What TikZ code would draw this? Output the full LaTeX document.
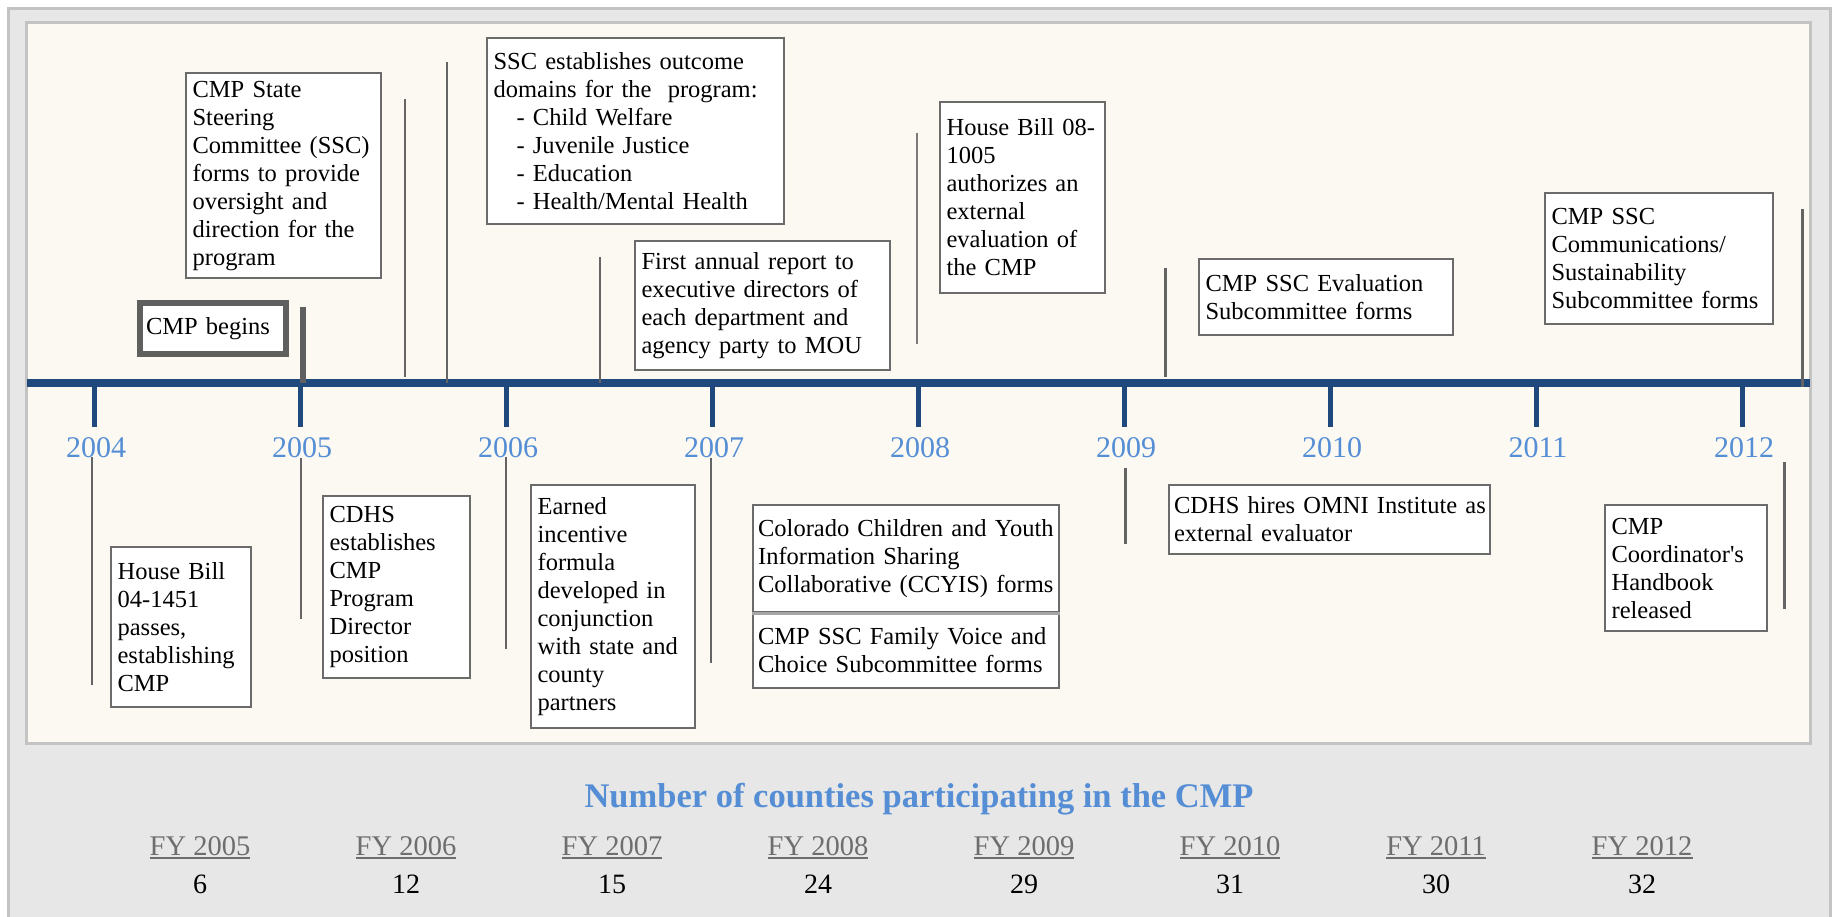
\documentclass[tikz,border=0pt]{standalone}
\usepackage{fontspec}
\setmainfont{Liberation Serif}
\definecolor{outerfill}{HTML}{E7E7E7}
\definecolor{outerline}{HTML}{C3C3C3}
\definecolor{panelfill}{HTML}{FCF9F2}
\definecolor{axisblue}{HTML}{1F497D}
\definecolor{yearblue}{HTML}{558ED5}
\definecolor{boxgray}{HTML}{6B6B6B}
\definecolor{leadgray}{HTML}{646464}
\definecolor{darkgray5}{HTML}{5F5F5F}
\definecolor{divgray}{HTML}{A6A6A6}
\definecolor{fygray}{HTML}{6E6E6E}
\newcommand{\bodyfont}{\fontsize{24.5}{28}\selectfont\hyphenpenalty=10000\exhyphenpenalty=10000}
\tikzset{
  evbox/.style={draw=boxgray, line width=2.2pt, fill=white, anchor=north west,
    inner xsep=6.5pt, inner ysep=2pt, align=left, font=\bodyfont, text=black},
  thickbox/.style={draw=darkgray5, line width=6pt, fill=white, anchor=north west,
    inner xsep=6pt, inner ysep=0pt, align=left, font=\bodyfont, text=black},
  leader/.style={draw=leadgray, line width=2.5pt},
  thickleader/.style={draw=darkgray5, line width=6pt},
  tickline/.style={draw=axisblue, line width=5pt},
  yearlbl/.style={anchor=base, inner sep=0pt, text=yearblue, font=\fontsize{30}{32}\selectfont},
  titlelbl/.style={anchor=base, inner sep=0pt, text=yearblue, font=\fontsize{34.5}{36}\selectfont\bfseries},
  fylbl/.style={anchor=base, inner sep=0pt, text=fygray, font=\fontsize{28.5}{30}\selectfont},
  numlbl/.style={anchor=base, inner sep=0pt, text=black, font=\fontsize{28}{30}\selectfont},
}
\begin{document}
\begin{tikzpicture}[x=1pt,y=-1pt]
\useasboundingbox (0,0) rectangle (1836,917);
\fill[white] (0,0) rectangle (1836,917);
% frames
\draw[draw=outerline, line width=3pt, fill=outerfill] (8.5,8.5) rectangle (1830.5,940);
\draw[draw=outerline, line width=3pt, fill=panelfill] (26.5,22.5) rectangle (1810.5,743);

% axis
\coordinate (axisL) at (27,383);
\coordinate (axisR) at (1810,383);
\draw[axisblue, line width=7.5pt] (axisL) -- (axisR);
\foreach \k/\yr in {0/2004,1/2005,2/2006,3/2007,4/2008,5/2009,6/2010,7/2011,8/2012}{
  \coordinate (t\yr) at (94+206*\k,383);
  \draw[tickline] (t\yr) -- ++(0,44);
  \node[yearlbl] (y\yr) at (96+206*\k,457) {\yr};
}

% leader lines above the axis
\draw[thickleader] (302.5,307) -- (302.5,383);
\draw[leader] (405,99) -- (405,377);
\draw[leader] (447,62) -- (447,383);
\draw[leader] (600,257) -- (600,383);
\draw[leader, draw=leadgray!85] (917,133) -- (917,344);
\draw[leader, line width=3pt] (1165,268) -- (1165,377);
\draw[leader, line width=3pt] (1802,209) -- (1802,387);
% leader lines below the axis
\draw[leader] (92,457) -- (92,685);
\draw[leader] (301,458) -- (301,619);
\draw[leader] (506,457) -- (506,649);
\draw[leader] (711,458) -- (711,663);
\draw[leader, line width=3pt] (1125,468) -- (1125,544);
\draw[leader, line width=3pt] (1784,462) -- (1784,609);

% boxes above
\node[thickbox, text width=134pt, minimum height=51pt] (begins) at (137,300) {CMP begins};
\node[evbox, text width=182pt, minimum height=205pt] (ssc) at (185,72)
  {CMP State\\Steering\\Committee (SSC)\\forms to provide\\oversight and\\direction for the\\program};
\node[evbox, text width=284pt, minimum height=186pt] (domains) at (486,37)
  {SSC establishes outcome\\domains for the\ \ program:\\\hspace*{23pt}- Child Welfare\\\hspace*{23pt}- Juvenile Justice\\\hspace*{23pt}- Education\\\hspace*{23pt}- Health/Mental Health};
\node[evbox, text width=242pt, minimum height=129pt] (report) at (634,240)
  {First annual report to\\executive directors of\\each department and\\agency party to MOU};
\node[evbox, text width=152pt, minimum height=191pt] (hb08) at (939,101)
  {\mbox{House Bill 08-}\\1005\\authorizes an\\external\\evaluation of\\the CMP};
\node[evbox, text width=241pt, minimum height=76pt] (eval) at (1198,258)
  {CMP SSC Evaluation\\Subcommittee forms};
\node[evbox, text width=215pt, minimum height=131pt] (comm) at (1544,192)
  {CMP SSC\\Communications/\\Sustainability\\Subcommittee forms};

% boxes below
\node[evbox, text width=127pt, minimum height=160pt] (hb04) at (110,546)
  {House Bill\\04-1451\\passes,\\establishing\\CMP};
\node[evbox, text width=134pt, minimum height=182pt] (cdhs) at (322,495)
  {CDHS\\establishes\\CMP\\Program\\Director\\position};
\node[evbox, text width=151pt, minimum height=243pt] (earned) at (530,484)
  {Earned\\incentive\\formula\\developed in\\conjunction\\with state and\\county\\partners};
\node[evbox, inner xsep=5pt, text width=296pt, minimum height=107pt] (ccyis) at (752,504)
  {\mbox{Colorado Children and Youth}\\Information Sharing\\\mbox{Collaborative (CCYIS) forms}};
\node[evbox, inner xsep=5pt, text width=296pt, minimum height=76pt] (family) at (752,611)
  {CMP SSC Family Voice and\\Choice Subcommittee forms};
\draw[divgray, line width=3pt] (ccyis.south west) -- (ccyis.south east);
\node[evbox, inner xsep=5pt, text width=311pt, minimum height=69pt] (omni) at (1168,484)
  {\mbox{CDHS hires OMNI Institute as}\\external evaluator};
\node[evbox, text width=149pt, minimum height=126pt] (handbook) at (1604,504)
  {CMP\\\mbox{Coordinator\textquotesingle s}\\Handbook\\released};

% counties
\node[titlelbl] (title) at (919,807) {Number of counties participating in the CMP};
\foreach \k/\fy/\n in {0/2005/6,1/2006/12,2/2007/15,3/2008/24,4/2009/29,5/2010/31,6/2011/30,7/2012/32}{
  \node[fylbl] (fy\fy) at (200+206*\k,855) {FY \fy};
  \draw[fygray, line width=1.6pt] ([yshift=-3pt]fy\fy.base west) -- ([yshift=-3pt]fy\fy.base east);
  \node[numlbl] (n\fy) at (200+206*\k,893) {\n};
}
\end{tikzpicture}
\end{document}
